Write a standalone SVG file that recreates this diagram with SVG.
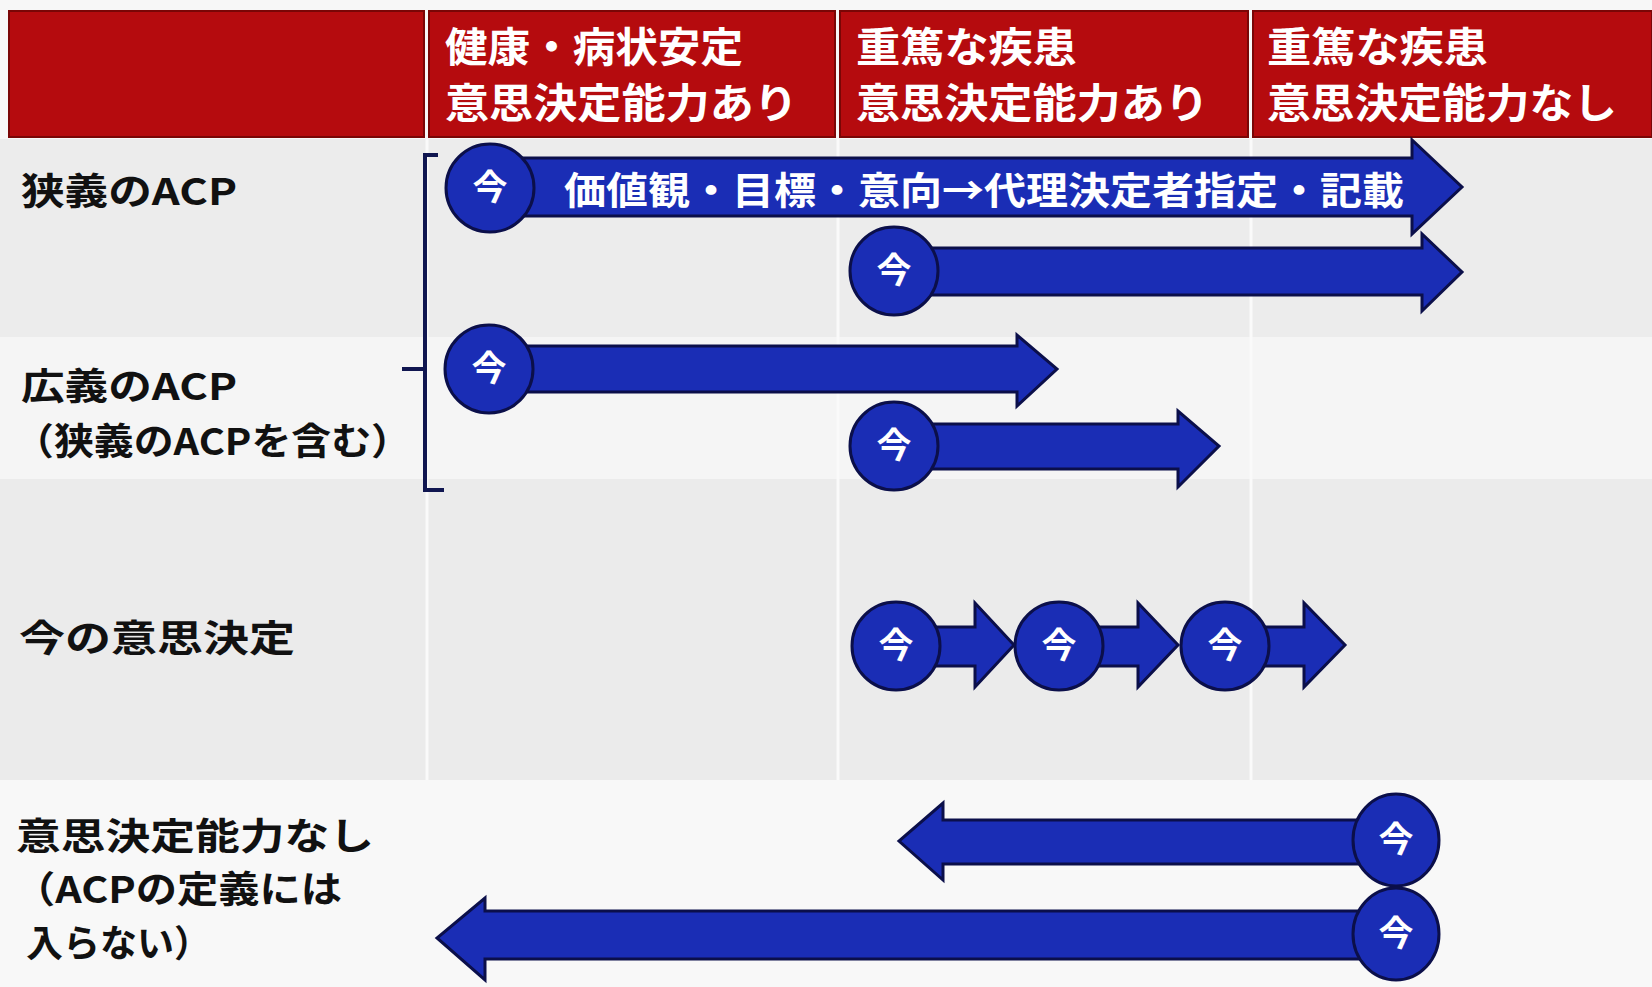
<svg xmlns="http://www.w3.org/2000/svg" width="1652" height="987" viewBox="0 0 1652 987">
<style>
.hdr{fill:#b50b0e;stroke:#7a0606;stroke-width:2}
.htxt{fill:#ffffff;font-family:"Noto Sans CJK JP","Noto Sans",sans-serif;font-weight:bold;font-size:41px}
.lbl{fill:#111111;font-family:"Noto Sans CJK JP","Noto Sans",sans-serif;font-weight:bold;font-size:37px}
.arr{fill:#1a2db5;stroke:#0b0f4a;stroke-width:3;stroke-linejoin:miter}
.now{fill:#1a2db5;stroke:#0b0f4a;stroke-width:3}
.nowt{fill:#ffffff;font-family:"Noto Sans CJK JP","Noto Sans",sans-serif;font-weight:bold;font-size:35px;text-anchor:middle}
.atxt{fill:#ffffff;font-family:"Noto Sans CJK JP","Noto Sans",sans-serif;font-weight:bold;font-size:38px}
.grid{stroke:#fafafa;stroke-width:3}
.brk{fill:none;stroke:#101650;stroke-width:4}
</style>
<rect x="0" y="0" width="1652" height="987" fill="#f7f7f7"/>
<g id="bands">
<rect x="0" y="139" width="1652" height="198" fill="#ececec"/>
<rect x="0" y="337" width="1652" height="142" fill="#f5f5f5"/>
<rect x="0" y="479" width="1652" height="301" fill="#ebebeb"/>
<rect x="0" y="780" width="1652" height="207" fill="#f8f8f8"/>
<line class="grid" x1="427" y1="139" x2="427" y2="780"/>
<line class="grid" x1="838" y1="139" x2="838" y2="780"/>
<line class="grid" x1="1251" y1="139" x2="1251" y2="780"/>
</g>
<g id="header">
<rect class="hdr" x="9" y="11" width="415" height="126"/>
<rect class="hdr" x="429" y="11" width="406" height="126"/>
<rect class="hdr" x="840" y="11" width="408" height="126"/>
<rect class="hdr" x="1253" y="11" width="399" height="126"/>
<text class="htxt" x="445" y="62" textLength="298" lengthAdjust="spacingAndGlyphs">健康・病状安定</text>
<text class="htxt" x="445" y="118" textLength="353" lengthAdjust="spacingAndGlyphs">意思決定能力あり</text>
<text class="htxt" x="856" y="62" textLength="221" lengthAdjust="spacingAndGlyphs">重篤な疾患</text>
<text class="htxt" x="856" y="118" textLength="353" lengthAdjust="spacingAndGlyphs">意思決定能力あり</text>
<text class="htxt" x="1267" y="62" textLength="221" lengthAdjust="spacingAndGlyphs">重篤な疾患</text>
<text class="htxt" x="1267" y="118" textLength="350" lengthAdjust="spacingAndGlyphs">意思決定能力なし</text>
</g>
<g id="labels">
<text class="lbl" x="21" y="205" textLength="216" lengthAdjust="spacingAndGlyphs">狭義のACP</text>
<text class="lbl" x="21" y="400" textLength="216" lengthAdjust="spacingAndGlyphs">広義のACP</text>
<text class="lbl" x="14" y="455" textLength="397" lengthAdjust="spacingAndGlyphs">（狭義のACPを含む）</text>
<text class="lbl" x="19" y="652" textLength="276" lengthAdjust="spacingAndGlyphs">今の意思決定</text>
<text class="lbl" x="16" y="850" textLength="358" lengthAdjust="spacingAndGlyphs">意思決定能力なし</text>
<text class="lbl" x="14" y="903" textLength="328" lengthAdjust="spacingAndGlyphs">（ACPの定義には</text>
<text class="lbl" x="26" y="957" textLength="185" lengthAdjust="spacingAndGlyphs">入らない）</text>
</g>
<g id="bracket">
<path class="brk" d="M438,155 H425 V490 H444"/>
<path class="brk" d="M402,369 H425"/>
</g>
<g id="connectors">
<path class="arr" d="M490,158 H1412 V140 L1462,187 L1412,234 V216 H490 Z"/>
<path class="arr" d="M894,248 H1422 V234 L1462,272 L1422,311 V295 H894 Z"/>
<path class="arr" d="M489,346 H1017 V335 L1057,369 L1017,406 V392 H489 Z"/>
<path class="arr" d="M894,424 H1178 V411 L1219,446 L1178,487 V469 H894 Z"/>
<path class="arr" d="M896,627 H975 V603 L1014,645 L975,687 V666 H896 Z"/>
<path class="arr" d="M1059,627 H1138 V603 L1178,645 L1138,687 V666 H1059 Z"/>
<path class="arr" d="M1225,627 H1304 V603 L1345,645 L1304,687 V666 H1225 Z"/>
<path class="arr" d="M1396,820 H943 V803 L899,841 L943,880 V864 H1396 Z"/>
<path class="arr" d="M1396,911 H485 V898 L437,938 L485,980 V959 H1396 Z"/>
</g>
<g id="arrow-text">
<text class="atxt" x="564" y="204" textLength="840" lengthAdjust="spacingAndGlyphs">価値観・目標・意向→代理決定者指定・記載</text>
</g>
<g id="now-nodes">
<g id="n1"><circle class="now" cx="490" cy="188" r="44"/><text class="nowt" x="490" y="200">今</text></g>
<g id="n2"><circle class="now" cx="894" cy="271" r="44"/><text class="nowt" x="894" y="283">今</text></g>
<g id="n3"><circle class="now" cx="489" cy="369" r="44"/><text class="nowt" x="489" y="381">今</text></g>
<g id="n4"><circle class="now" cx="894" cy="446" r="44"/><text class="nowt" x="894" y="458">今</text></g>
<g id="n5"><circle class="now" cx="896" cy="646" r="44"/><text class="nowt" x="896" y="658">今</text></g>
<g id="n6"><circle class="now" cx="1059" cy="646" r="44"/><text class="nowt" x="1059" y="658">今</text></g>
<g id="n7"><circle class="now" cx="1225" cy="646" r="44"/><text class="nowt" x="1225" y="658">今</text></g>
<g id="n8"><ellipse class="now" cx="1396" cy="840" rx="43" ry="46"/><text class="nowt" x="1396" y="852">今</text></g>
<g id="n9"><ellipse class="now" cx="1396" cy="934" rx="43" ry="46"/><text class="nowt" x="1396" y="946">今</text></g>
</g>
</svg>
